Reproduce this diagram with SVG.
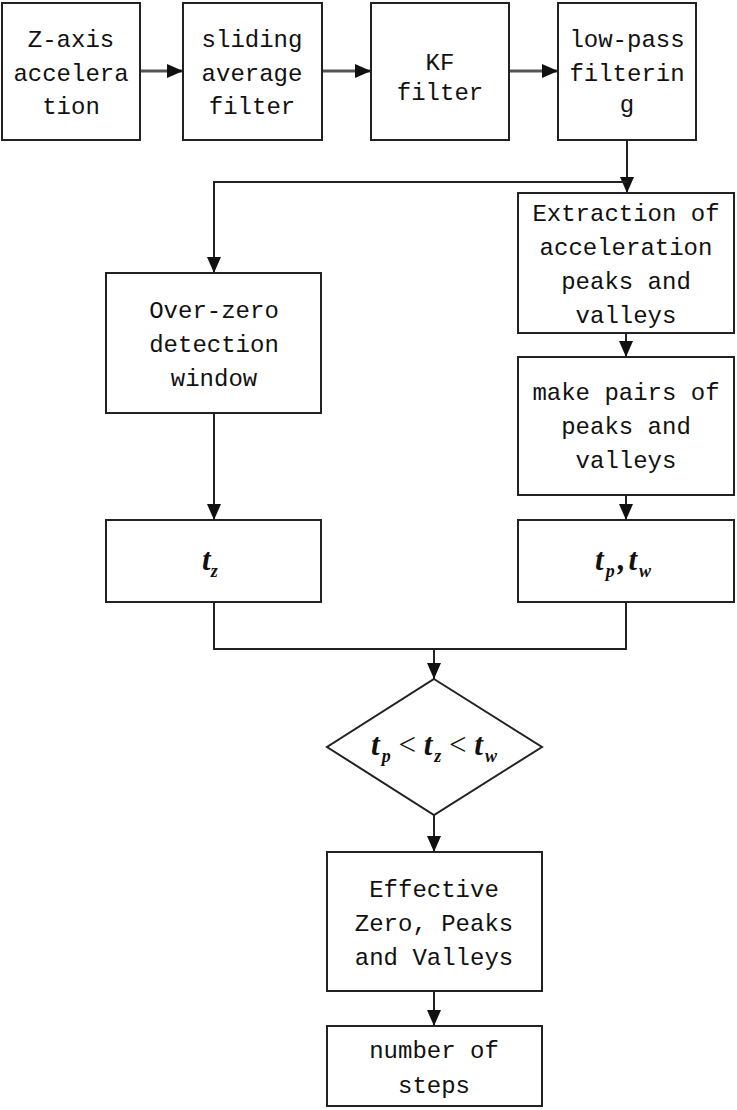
<svg xmlns="http://www.w3.org/2000/svg" width="737" height="1110" viewBox="0 0 737 1110">
  <defs>
    <marker id="arrow" markerUnits="userSpaceOnUse" markerWidth="16" markerHeight="14" refX="16" refY="7" orient="auto">
      <path d="M0,0 L16,7 L0,14 z" fill="#111"/>
    </marker>
    <style>
      .box { fill: #fff; stroke: #222; stroke-width: 2; }
      .lbl { font-family: "Liberation Mono", "DejaVu Sans Mono", monospace; font-size: 24px; fill: #111; text-anchor: middle; }
      .math { font-family: "Liberation Serif", "DejaVu Serif", serif; font-size: 31px; font-style: italic; font-weight: bold; fill: #111; }
      .sub { font-size: 18px; }
      .op { font-style: normal; font-weight: normal; }
      .wire { fill: none; stroke: #222; stroke-width: 2; }
      .wire-top { fill: none; stroke: #555; stroke-width: 3; }
    </style>
  </defs>
  <rect width="737" height="1110" fill="#fff"/>

  <!-- connectors -->
  <g id="connectors">
    <line class="wire-top" x1="140" y1="71" x2="183" y2="71" marker-end="url(#arrow)"/>
    <line class="wire-top" x1="322" y1="71" x2="371" y2="71" marker-end="url(#arrow)"/>
    <line class="wire-top" x1="509" y1="71" x2="558" y2="71" marker-end="url(#arrow)"/>
    <line class="wire" x1="627" y1="140" x2="627" y2="193" marker-end="url(#arrow)"/>
    <polyline class="wire" points="627,182 214,182 214,273" marker-end="url(#arrow)"/>
    <line class="wire" x1="626" y1="333" x2="626" y2="357" marker-end="url(#arrow)"/>
    <line class="wire" x1="626" y1="495" x2="626" y2="520" marker-end="url(#arrow)"/>
    <line class="wire" x1="214" y1="413" x2="214" y2="520" marker-end="url(#arrow)"/>
    <polyline class="wire" points="214,602 214,649 626,649 626,602"/>
    <line class="wire" x1="434" y1="649" x2="434" y2="679" marker-end="url(#arrow)"/>
    <line class="wire" x1="434" y1="815" x2="434" y2="852" marker-end="url(#arrow)"/>
    <line class="wire" x1="434" y1="991" x2="434" y2="1026" marker-end="url(#arrow)"/>
  </g>

  <g id="node-zaxis">
    <rect class="box" x="2" y="3" width="138" height="137"/>
    <text class="lbl" x="71" y="47">Z-axis</text>
    <text class="lbl" x="71" y="81">accelera</text>
    <text class="lbl" x="71" y="114">tion</text>
  </g>

  <g id="node-sliding">
    <rect class="box" x="183" y="3" width="139" height="137"/>
    <text class="lbl" x="252" y="47">sliding</text>
    <text class="lbl" x="252" y="81">average</text>
    <text class="lbl" x="252" y="114">filter</text>
  </g>

  <g id="node-kf">
    <rect class="box" x="371" y="3" width="138" height="137"/>
    <text class="lbl" x="440" y="70">KF</text>
    <text class="lbl" x="440" y="100">filter</text>
  </g>

  <g id="node-lowpass">
    <rect class="box" x="558" y="3" width="138" height="137"/>
    <text class="lbl" x="627" y="47">low-pass</text>
    <text class="lbl" x="627" y="81">filterin</text>
    <text class="lbl" x="627" y="112">g</text>
  </g>

  <g id="node-extraction">
    <rect class="box" x="518" y="193" width="216" height="140"/>
    <text class="lbl" x="626" y="221">Extraction of</text>
    <text class="lbl" x="626" y="255">acceleration</text>
    <text class="lbl" x="626" y="289">peaks and</text>
    <text class="lbl" x="626" y="323">valleys</text>
  </g>

  <g id="node-overzero">
    <rect class="box" x="106" y="273" width="215" height="140"/>
    <text class="lbl" x="214" y="318">Over-zero</text>
    <text class="lbl" x="214" y="352">detection</text>
    <text class="lbl" x="214" y="386">window</text>
  </g>

  <g id="node-pairs">
    <rect class="box" x="518" y="357" width="216" height="138"/>
    <text class="lbl" x="626" y="400">make pairs of</text>
    <text class="lbl" x="626" y="434">peaks and</text>
    <text class="lbl" x="626" y="468">valleys</text>
  </g>

  <g id="node-tz">
    <rect class="box" x="106" y="520" width="215" height="82"/>
    <text class="math" x="202" y="570">t<tspan class="sub" dy="7">z</tspan></text>
  </g>

  <g id="node-tptw">
    <rect class="box" x="518" y="520" width="216" height="82"/>
    <text class="math" x="595" y="570">t<tspan class="sub" dy="7" dx="2">p</tspan><tspan dy="-7" dx="3">,</tspan><tspan dx="3">t</tspan><tspan class="sub" dy="7" dx="2">w</tspan></text>
  </g>

  <g id="node-compare">
    <polygon class="box" points="434,679 542,747 434,815 327,747"/>
    <text class="math" x="434" y="755" text-anchor="middle">t<tspan class="sub" dy="7" dx="2">p</tspan><tspan class="op" dy="-7"> &lt; </tspan><tspan>t</tspan><tspan class="sub" dy="7" dx="2">z</tspan><tspan class="op" dy="-7"> &lt; </tspan><tspan>t</tspan><tspan class="sub" dy="7" dx="2">w</tspan></text>
  </g>

  <g id="node-effective">
    <rect class="box" x="327" y="852" width="215" height="139"/>
    <text class="lbl" x="434" y="897">Effective</text>
    <text class="lbl" x="434" y="931">Zero, Peaks</text>
    <text class="lbl" x="434" y="965">and Valleys</text>
  </g>

  <g id="node-steps">
    <rect class="box" x="327" y="1026" width="215" height="80"/>
    <text class="lbl" x="434" y="1058">number of</text>
    <text class="lbl" x="434" y="1093">steps</text>
  </g>
</svg>
